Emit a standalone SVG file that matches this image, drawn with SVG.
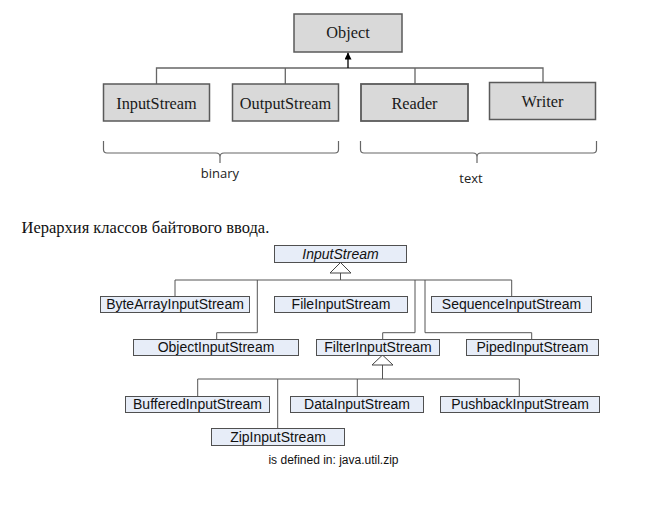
<svg xmlns="http://www.w3.org/2000/svg" width="665" height="510" viewBox="0 0 665 510">
<style>
.tb{fill:#d9d9d9;stroke:#5a5a5a;stroke-width:1.5}
.tt{font-family:"Liberation Serif",serif;font-size:16.3px;fill:#1a1a1a;text-anchor:middle}
.bb{fill:#e7edf8;stroke:#505050;stroke-width:1}
.bt{font-family:"Liberation Sans",Arial,sans-serif;font-size:14px;fill:#111;text-anchor:middle}
.ln{fill:none;stroke:#666;stroke-width:1.3}
.bl{fill:none;stroke:#555;stroke-width:1}
.br{fill:none;stroke:#666;stroke-width:1.2}
.lab{font-family:"Open Sans","Liberation Sans",sans-serif;font-size:13px;fill:#222;text-anchor:middle}
.tri{fill:#fff;stroke:#444;stroke-width:1}
</style>
<defs>
<marker id="ah" viewBox="0 0 10 10" refX="10" refY="5" markerWidth="7" markerHeight="7" orient="auto" markerUnits="userSpaceOnUse">
<path d="M0,0 L10,5 L0,10 z" fill="#000"/>
</marker>
</defs>
<g id="connectors">
<path class="ln" d="M156.5,84 V68 H543 V84 M285.3,68 V84 M415,68 V84"/>
<path d="M348,68 V52.5" stroke="#000" stroke-width="1.3" fill="none" marker-end="url(#ah)"/>
<path class="br" d="M103.5,141 V149.5 Q103.5,153 107,153 H216 Q220,153 220,157 V163 M220,163 V157 Q220,153 224,153 H335 Q338.5,153 338.5,149.5 V141"/>
<path class="br" d="M360.5,141 V149.5 Q360.5,153 364,153 H473 Q477,153 477,157 V163 M477,163 V157 Q477,153 481,153 H593 Q596.5,153 596.5,149.5 V141"/>
<path class="bl" d="M340.5,273 V280 M175,280 H511.7 M175,280 V296 M511.7,280 V296 M257.3,280 V332.7 H216.7 V339 M415,280 V332.7 H382.7 V339 M425,280 V332.7 H531.7 V339"/>
<polygon class="tri" points="340.5,262.5 330,273 351,273"/>
<path class="bl" d="M382.5,365 V379 M197.7,379 H519.3 M197.7,379 V396 M357.3,379 V396 M519.3,379 V396 M277.7,379 V429"/>
<polygon class="tri" points="382.5,355 372,365 393,365"/>
</g>
<g id="Object"><rect class="tb" x="294" y="14" width="108" height="38"/><text class="tt" x="348" y="38">Object</text></g>
<g id="InputStreamTop"><rect class="tb" x="103.5" y="84" width="106" height="37"/><text class="tt" x="156.5" y="109">InputStream</text></g>
<g id="OutputStream"><rect class="tb" x="232.5" y="84" width="106" height="37"/><text class="tt" x="285.5" y="109">OutputStream</text></g>
<g id="Reader"><rect class="tb" x="361" y="84" width="107" height="37" style="stroke-width:1.8"/><text class="tt" x="414.5" y="108.5">Reader</text></g>
<g id="Writer"><rect class="tb" x="489.5" y="82.5" width="106" height="37"/><text class="tt" x="542.5" y="107">Writer</text></g>
<text class="lab" x="220" y="178">binary</text>
<text class="lab" x="471" y="183">text</text>
<text x="21.5" y="233" font-family="Liberation Serif,serif" font-size="16.5" fill="#111">Иерархия классов байтового ввода.</text>
<g id="InputStream"><rect class="bb" x="274.5" y="245.5" width="132" height="17"/><text class="bt" x="340.5" y="258.5" font-style="italic">InputStream</text></g>
<g id="ByteArrayInputStream"><rect class="bb" x="100.5" y="296.5" width="149" height="16"/><text class="bt" x="175" y="309">ByteArrayInputStream</text></g>
<g id="FileInputStream"><rect class="bb" x="274.5" y="296.5" width="133" height="16"/><text class="bt" x="341" y="309">FileInputStream</text></g>
<g id="SequenceInputStream"><rect class="bb" x="431.5" y="296.5" width="160" height="16"/><text class="bt" x="511.5" y="309">SequenceInputStream</text></g>
<g id="ObjectInputStream"><rect class="bb" x="133.5" y="339.5" width="165" height="16"/><text class="bt" x="216" y="352">ObjectInputStream</text></g>
<g id="FilterInputStream"><rect class="bb" x="316.5" y="339.5" width="123" height="16"/><text class="bt" x="378" y="352">FilterInputStream</text></g>
<g id="PipedInputStream"><rect class="bb" x="466.5" y="339.5" width="132" height="16"/><text class="bt" x="532.5" y="352">PipedInputStream</text></g>
<g id="BufferedInputStream"><rect class="bb" x="125.5" y="396.5" width="144" height="16"/><text class="bt" x="197.5" y="409">BufferedInputStream</text></g>
<g id="DataInputStream"><rect class="bb" x="290.5" y="396.5" width="133" height="16"/><text class="bt" x="357" y="409">DataInputStream</text></g>
<g id="PushbackInputStream"><rect class="bb" x="440.5" y="396.5" width="159" height="16"/><text class="bt" x="520" y="409">PushbackInputStream</text></g>
<g id="ZipInputStream"><rect class="bb" x="211.5" y="428.5" width="133" height="17"/><text class="bt" x="278" y="441.5">ZipInputStream</text></g>
<text x="333.5" y="464" font-family="Liberation Sans,Arial,sans-serif" font-size="12" fill="#111" text-anchor="middle">is defined in: java.util.zip</text>
</svg>
